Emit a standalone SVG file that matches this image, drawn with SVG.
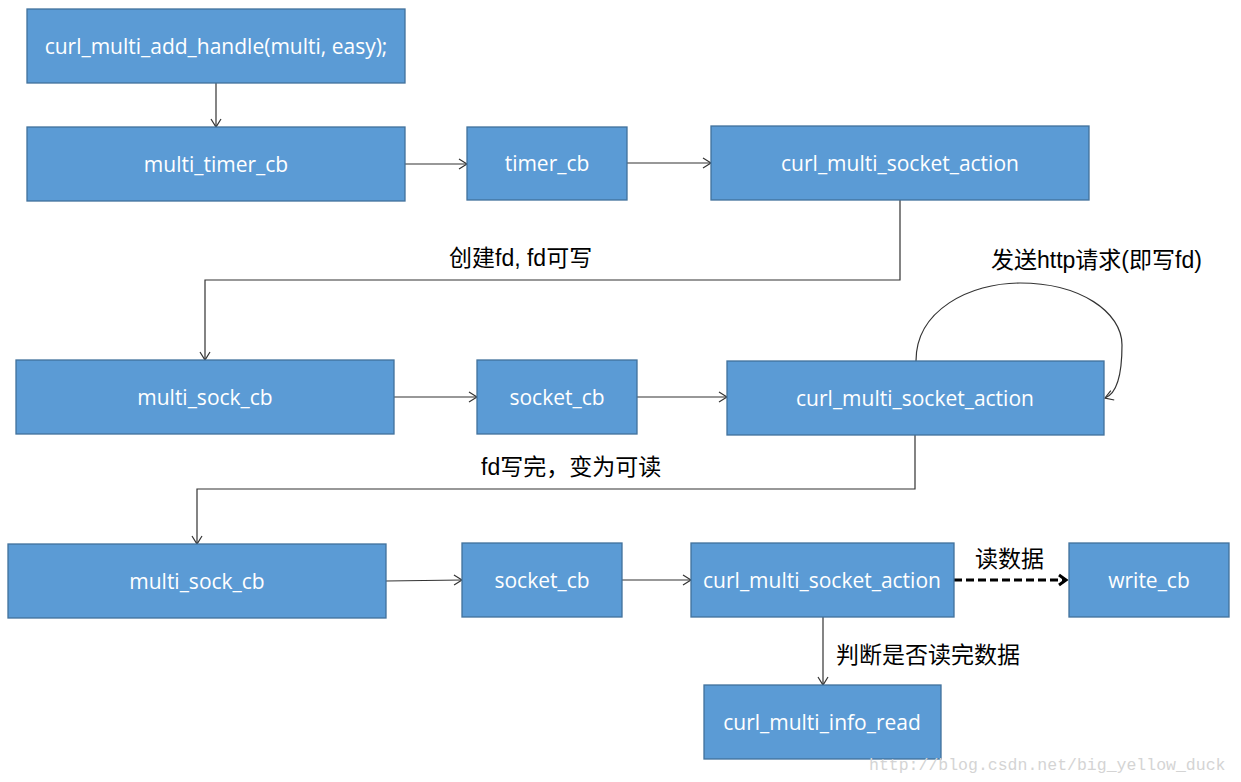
<svg xmlns="http://www.w3.org/2000/svg" width="1241" height="782" viewBox="0 0 1241 782">
<style>
.box{fill:#5B9BD5;stroke:#41719C;stroke-width:1.3}
.t{fill:#fff;font-family:"Open Sans","Liberation Sans",sans-serif;font-size:21px;text-anchor:middle;dominant-baseline:central}
.lbl{fill:#000;font-family:"Liberation Sans","Noto Sans CJK SC",sans-serif;font-size:23px}
.c{fill:none;stroke:#333;stroke-width:1.2}
.d{fill:none;stroke:#000;stroke-width:3;stroke-dasharray:8,4}
.wm{fill:#d4d4d4;font-family:"Liberation Mono",monospace;font-size:16.5px}
</style>
<defs>
<marker id="a" markerWidth="12" markerHeight="12" refX="10" refY="6" orient="auto" markerUnits="userSpaceOnUse">
<path d="M2,1 L10,6 L2,11" fill="none" stroke="#333" stroke-width="1.2"/>
</marker>
<marker id="b" markerWidth="14" markerHeight="14" refX="11" refY="7" orient="auto" markerUnits="userSpaceOnUse">
<path d="M4,2 L11,7 L4,12" fill="none" stroke="#000" stroke-width="3"/>
</marker>
</defs>
<rect width="1241" height="782" fill="#fff"/>
<g id="connectors">
<line class="c" x1="216" y1="83" x2="216" y2="127" marker-end="url(#a)"/>
<line class="c" x1="405" y1="164" x2="467" y2="164" marker-end="url(#a)"/>
<line class="c" x1="627" y1="163" x2="711" y2="163" marker-end="url(#a)"/>
<polyline class="c" points="900,200 900,280 205,280 205,360" marker-end="url(#a)"/>
<line class="c" x1="394" y1="397" x2="477" y2="397" marker-end="url(#a)"/>
<line class="c" x1="637" y1="397" x2="727" y2="397" marker-end="url(#a)"/>
<path class="c" d="M916,361 C916,310 970,283 1020,283 C1080,283 1122,312 1122,345 C1122,378 1116,394 1105,398" marker-end="url(#a)"/>
<polyline class="c" points="915,435 915,489 197,489 197,544" marker-end="url(#a)"/>
<line class="c" x1="386" y1="581" x2="462" y2="580" marker-end="url(#a)"/>
<line class="c" x1="622" y1="580" x2="691" y2="580" marker-end="url(#a)"/>
<line class="d" x1="954" y1="580" x2="1066" y2="580" marker-end="url(#b)"/>
<line class="c" x1="823" y1="617" x2="823" y2="685" marker-end="url(#a)"/>
<text class="lbl" x="449" y="266">创建fd, fd可写</text>
<text class="lbl" x="991" y="268">发送http请求(即写fd)</text>
<text class="lbl" x="481" y="475">fd写完，变为可读</text>
<text class="lbl" x="975" y="567">读数据</text>
<text class="lbl" x="836" y="663">判断是否读完数据</text>
</g>
<g id="n1"><rect class="box" x="27" y="9" width="378" height="74"/><text class="t" x="216" y="46">curl_multi_add_handle(multi, easy);</text></g>
<g id="n2"><rect class="box" x="27" y="127" width="378" height="74"/><text class="t" x="216" y="164">multi_timer_cb</text></g>
<g id="n3"><rect class="box" x="467" y="127" width="160" height="73"/><text class="t" x="547" y="163">timer_cb</text></g>
<g id="n4"><rect class="box" x="711" y="126" width="378" height="74"/><text class="t" x="900" y="163">curl_multi_socket_action</text></g>
<g id="n5"><rect class="box" x="16" y="360" width="378" height="74"/><text class="t" x="205" y="397">multi_sock_cb</text></g>
<g id="n6"><rect class="box" x="477" y="360" width="160" height="74"/><text class="t" x="557" y="397">socket_cb</text></g>
<g id="n7"><rect class="box" x="727" y="361" width="377" height="74"/><text class="t" x="915" y="398">curl_multi_socket_action</text></g>
<g id="n8"><rect class="box" x="8" y="544" width="378" height="74"/><text class="t" x="197" y="581">multi_sock_cb</text></g>
<g id="n9"><rect class="box" x="462" y="543" width="160" height="74"/><text class="t" x="542" y="580">socket_cb</text></g>
<g id="n10"><rect class="box" x="691" y="543" width="263" height="74"/><text class="t" x="822" y="580">curl_multi_socket_action</text></g>
<g id="n11"><rect class="box" x="1069" y="543" width="160" height="74"/><text class="t" x="1149" y="580">write_cb</text></g>
<g id="n12"><rect class="box" x="704" y="685" width="237" height="74"/><text class="t" x="822" y="722">curl_multi_info_read</text></g>
<text class="wm" x="869" y="770">http://blog.csdn.net/big_yellow_duck</text>
</svg>
